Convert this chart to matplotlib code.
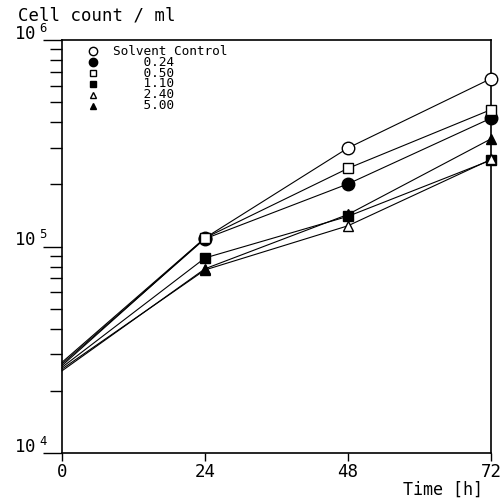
import numpy as np
import matplotlib
matplotlib.use("Agg")
import matplotlib.pyplot as plt
from matplotlib.ticker import FixedLocator, LogLocator, NullFormatter, FuncFormatter

plt.rcParams['font.family'] = ['DejaVu Sans Mono']
plt.rcParams['mathtext.default'] = 'regular'

# Zellzahl pro ml über die Zeit, je Konzentration
time_h = [0, 24, 48, 72]
labels = ['Solvent Control', '0.24', '0.50', '1.10', '2.40', '5.00']
sc = [27500, 110000, 300000, 650000]
c024 = [27000, 109000, 201000, 418000]
c050 = [26500, 110000, 239000, 460000]
c110 = [26000, 88000, 140000, 262000]
c240 = [25500, 77000, 126000, 264000]
c500 = [25000, 78000, 143000, 332000]
series = [sc, c024, c050, c110, c240, c500]

markers = ['o', 'o', 's', 's', '^', '^']
faces = ['white', 'black', 'white', 'black', 'white', 'black']
msizes = [9, 9, 7, 7, 7, 7]

fig = plt.figure(figsize=(5.04, 5.01), dpi=100)
ax = fig.add_axes([62 / 504, 48 / 501, 429 / 504, 413 / 501])

for y, m, fc, ms in zip(series, markers, faces, msizes):
    ax.plot(time_h, y, color='black', lw=0.8, marker=m, mfc=fc, mec='black',
            mew=1.0, ms=ms, markevery=[1, 2, 3], clip_on=False, zorder=3)

ax.set_yscale('log')
ax.set_ylim(1e4, 1e6)
ax.set_xlim(0, 72)
ax.xaxis.set_major_locator(FixedLocator(time_h))
ax.yaxis.set_major_locator(FixedLocator([1e4, 1e5, 1e6]))
ax.yaxis.set_minor_locator(LogLocator(base=10, subs=np.arange(2, 10)))
ax.yaxis.set_minor_formatter(NullFormatter())
ax.yaxis.set_major_formatter(FuncFormatter(lambda v, p: r'$10\;^{%d}$' % round(np.log10(v))))

ax.tick_params(axis='y', which='major', direction='out', length=14, width=1.0,
               labelsize=12.5, pad=-4)
ax.tick_params(axis='y', which='minor', direction='out', length=9, width=1.0)
ax.tick_params(axis='x', which='major', direction='out', length=6, width=1.0,
               labelsize=12.5, pad=1)
plt.setp(ax.get_yticklabels(), va='baseline')
for s in ax.spines.values():
    s.set_linewidth(1.2)

fig.text(18 / 504, 1 - 16 / 501, 'Cell count / ml', fontsize=12.5, va='center', ha='left')
fig.text(483 / 504, 1 - 490 / 501, 'Time [h]', fontsize=12, va='center', ha='right')

# Legende von Hand: Symbole einzeln, Beschriftung als ein Textblock
rows_y = [51, 62, 73, 84, 95, 106]
for m, fc, ry in zip(markers, faces, rows_y):
    yf = 1 - (ry - 40) / 413
    ax.plot([(93 - 62) / 429], [yf], transform=ax.transAxes, marker=m, mfc=fc,
            mec='black', mew=1.0, ms=6 if m == 'o' else 5, ls='none', clip_on=False)
legend_text = '\n'.join([labels[0]] + ['    ' + lab for lab in labels[1:]])
ax.text((113 - 62) / 429, 1 - (45 - 40) / 413, legend_text, transform=ax.transAxes,
        fontsize=9.2, va='top', ha='left', linespacing=0.78)

fig.savefig('out.png', dpi=100)
